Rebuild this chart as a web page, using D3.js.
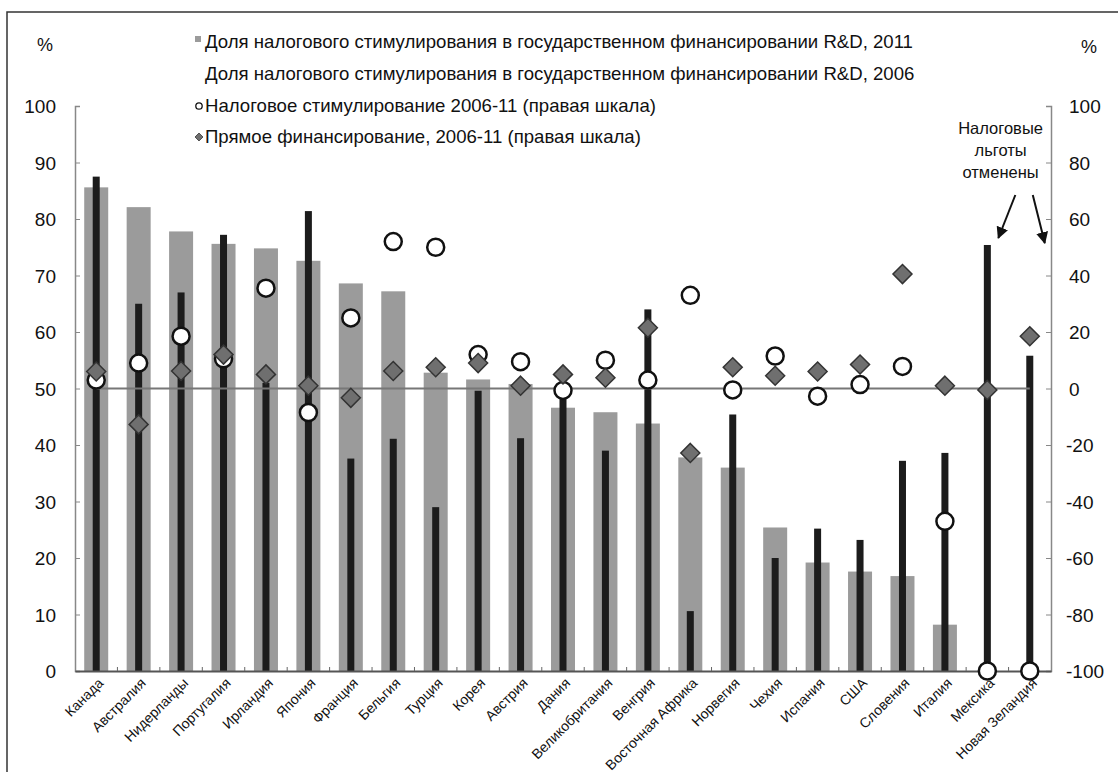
<!DOCTYPE html>
<html>
<head>
<meta charset="utf-8">
<script src="https://cdn.jsdelivr.net/npm/d3@7"></script>
<style>
  body { margin: 0; background: #fff; }
  text { font-family: "Liberation Sans", Arial, sans-serif; fill: #111; }
</style>
</head>
<body>
<script>
const countries = ['Канада', 'Австралия', 'Нидерланды', 'Португалия', 'Ирландия', 'Япония', 'Франция', 'Бельгия',
    'Турция', 'Корея', 'Австрия', 'Дания', 'Великобритания', 'Венгрия', 'Восточная Африка', 'Норвегия',
    'Чехия', 'Испания', 'США', 'Словения', 'Италия', 'Мексика', 'Новая Зеландия'];
// left scale, %
const share_2011 = [85.6, 82.1, 77.8, 75.6, 74.8, 72.6, 68.6, 67.2, 52.8, 51.6, 50.8, 46.6, 45.8, 43.8, 37.8, 36.0,
    25.4, 19.2, 17.6, 16.8, 8.2, 0, 0];
const share_2006 = [87.5, 65.0, 67.0, 77.2, 51.0, 81.4, 37.6, 41.1, 29.0, 49.6, 41.2, 48.5, 39.0, 64.0, 10.6, 45.4,
    20.0, 25.2, 23.2, 37.2, 38.6, 75.4, 55.8];
// right scale, %
const tax_change = [3, 9, 18.5, 10.5, 35.5, -8.5, 25, 52, 50, 12, 9.5, -0.7, 10, 3, 33, -0.5,
    11.5, -2.7, 1.4, 7.8, -47, -100, -100];
const direct_change = [6, -12.7, 6.2, 12, 5, 1, -3.3, 6.2, 7.5, 9, 1, 5, 3.8, 21.5, -22.8, 7.5,
    4.5, 6, 8.5, 40.5, 1, -0.5, 18.5];
const left_ticks = [0, 10, 20, 30, 40, 50, 60, 70, 80, 90, 100];
const right_ticks = [-100, -80, -60, -40, -20, 0, 20, 40, 60, 80, 100];
const legend_labels = [
    'Доля налогового стимулирования в государственном финансировании R&D, 2011',
    'Доля налогового стимулирования в государственном финансировании R&D, 2006',
    'Налоговое стимулирование 2006-11 (правая шкала)',
    'Прямое финансирование, 2006-11 (правая шкала)'
];
const note_lines = ['Налоговые', 'льготы', 'отменены'];

const _svg_width = 1118;
const _svg_height = 772;
const _left = 75;
const _right = 1051;
const _top = 106;
const _bottom = 671;

const gray_bar = '#9b9b9b';
const black_bar = '#1c1c1c';
const diamond_fill = '#6f6f6f';

const svg = d3.select('body')
    .append('svg')
    .attr('width', _svg_width)
    .attr('height', _svg_height);

svg.append('rect')
    .attr('x', 7).attr('y', 12)
    .attr('width', 1130).attr('height', 780)
    .attr('fill', 'none')
    .attr('stroke', '#333')
    .attr('stroke-width', 1.5);

const x = d3.scaleBand().domain(countries).range([_left, _right]).padding(0);
const y_left = d3.scaleLinear().domain([0, 100]).range([_bottom, _top]);
const y_right = d3.scaleLinear().domain([-100, 100]).range([_bottom, _top]);
const cx = d => x(d) + x.bandwidth() / 2;

// axes
const left_axis = svg.append('g')
    .attr('transform', `translate(${_left},0)`)
    .call(d3.axisRight(y_left).tickValues(left_ticks).tickSize(5).tickFormat(''));
left_axis.select('.domain').attr('stroke', '#888').attr('stroke-width', 1.5);
left_axis.selectAll('.tick line').attr('stroke', '#888');

svg.append('g').selectAll('text')
    .data(left_ticks)
    .join('text')
    .attr('x', 56)
    .attr('y', d => y_left(d) + 7)
    .attr('text-anchor', 'end')
    .style('font-size', '19px')
    .text(d => d);

const right_axis = svg.append('g')
    .attr('transform', `translate(${_right},0)`)
    .call(d3.axisLeft(y_right).tickValues(right_ticks).tickSize(5).tickFormat(''));
right_axis.select('.domain').attr('stroke', '#888').attr('stroke-width', 1.5);
right_axis.selectAll('.tick line').attr('stroke', '#888');

svg.append('g').selectAll('text')
    .data(right_ticks)
    .join('text')
    .attr('x', d => d < 0 ? 1066 : 1069)
    .attr('y', d => y_right(d) + 7)
    .style('font-size', '19px')
    .text(d => d);

svg.append('text').attr('x', 37).attr('y', 51).style('font-size', '18px').text('%');
svg.append('text').attr('x', 1081).attr('y', 53).style('font-size', '18px').text('%');

// bars
svg.append('g').selectAll('rect')
    .data(countries)
    .join('rect')
    .attr('x', (d, i) => cx(d) - 12)
    .attr('width', 24)
    .attr('y', (d, i) => y_left(share_2011[i]))
    .attr('height', (d, i) => _bottom - y_left(share_2011[i]))
    .attr('fill', gray_bar);

svg.append('g').selectAll('rect')
    .data(countries)
    .join('rect')
    .attr('x', (d, i) => cx(d) - 3.5)
    .attr('width', 7)
    .attr('y', (d, i) => y_left(share_2006[i]))
    .attr('height', (d, i) => _bottom - y_left(share_2006[i]))
    .attr('fill', black_bar);

// bottom axis
const bottom_axis = svg.append('g')
    .attr('transform', `translate(0,${_bottom})`)
    .call(d3.axisTop(x).tickSize(0).tickFormat(''));
bottom_axis.select('.domain').attr('stroke', '#555').attr('stroke-width', 2);
svg.append('g').selectAll('line')
    .data(countries.slice(1))
    .join('line')
    .attr('x1', d => x(d)).attr('x2', d => x(d))
    .attr('y1', _bottom - 4).attr('y2', _bottom)
    .attr('stroke', '#666');

svg.append('g').selectAll('text')
    .data(countries)
    .join('text')
    .attr('text-anchor', 'end')
    .attr('transform', d => `translate(${cx(d) + 8},${_bottom + 13}) rotate(-45)`)
    .style('font-size', '14px')
    .text(d => d);

// zero line of the right scale
svg.append('line')
    .attr('x1', cx(countries[0]))
    .attr('x2', cx(countries[countries.length - 1]))
    .attr('y1', y_right(0)).attr('y2', y_right(0))
    .attr('stroke', '#777')
    .attr('stroke-width', 2);

// markers
svg.append('g').selectAll('circle')
    .data(countries)
    .join('circle')
    .attr('cx', d => cx(d))
    .attr('cy', (d, i) => y_right(tax_change[i]))
    .attr('r', 8.5)
    .attr('fill', '#fff')
    .attr('stroke', '#111')
    .attr('stroke-width', 2.5);

const diamond = d3.symbol().type(d3.symbolDiamond2).size(230);
svg.append('g').selectAll('path')
    .data(countries)
    .join('path')
    .attr('d', diamond)
    .attr('transform', (d, i) => `translate(${cx(d)},${y_right(direct_change[i])})`)
    .attr('fill', diamond_fill)
    .attr('stroke', '#333')
    .attr('stroke-width', 1.5);

// legend
const legend = svg.append('g');
const legend_y = [48, 80, 112, 143];
legend.selectAll('text')
    .data(legend_labels)
    .join('text')
    .attr('x', 205)
    .attr('y', (d, i) => legend_y[i])
    .style('font-size', '18.6px')
    .text(d => d);
legend.append('rect').attr('x', 195).attr('y', legend_y[0] - 12).attr('width', 6).attr('height', 6).attr('fill', gray_bar);
legend.append('circle').attr('cx', 199).attr('cy', legend_y[2] - 6).attr('r', 3.2)
    .attr('fill', '#fff').attr('stroke', '#111').attr('stroke-width', 1.3);
legend.append('path').attr('d', d3.symbol().type(d3.symbolDiamond2).size(40))
    .attr('transform', `translate(199,${legend_y[3] - 6})`)
    .attr('fill', diamond_fill).attr('stroke', '#333').attr('stroke-width', 0.8);

// note with arrows
const mex = cx('Мексика');
const nz = cx('Новая Зеландия');
svg.append('g').selectAll('text')
    .data(note_lines)
    .join('text')
    .attr('x', (mex + nz) / 2 - 8)
    .attr('y', (d, i) => 134 + i * 22)
    .attr('text-anchor', 'middle')
    .style('font-size', '16.5px')
    .text(d => d);

svg.append('defs').append('marker')
    .attr('id', 'arrow')
    .attr('viewBox', '0 0 10 10')
    .attr('refX', 9).attr('refY', 5)
    .attr('markerWidth', 6).attr('markerHeight', 6)
    .attr('orient', 'auto')
    .append('path')
    .attr('d', 'M0,0 L10,5 L0,10 Z')
    .attr('fill', '#111');

svg.append('line')
    .attr('x1', mex + 28).attr('y1', 195)
    .attr('x2', mex + 11).attr('y2', 238)
    .attr('stroke', '#111').attr('stroke-width', 2)
    .attr('marker-end', 'url(#arrow)');
svg.append('line')
    .attr('x1', nz + 3).attr('y1', 195)
    .attr('x2', nz + 15).attr('y2', 243)
    .attr('stroke', '#111').attr('stroke-width', 2)
    .attr('marker-end', 'url(#arrow)');
</script>
</body>
</html>
